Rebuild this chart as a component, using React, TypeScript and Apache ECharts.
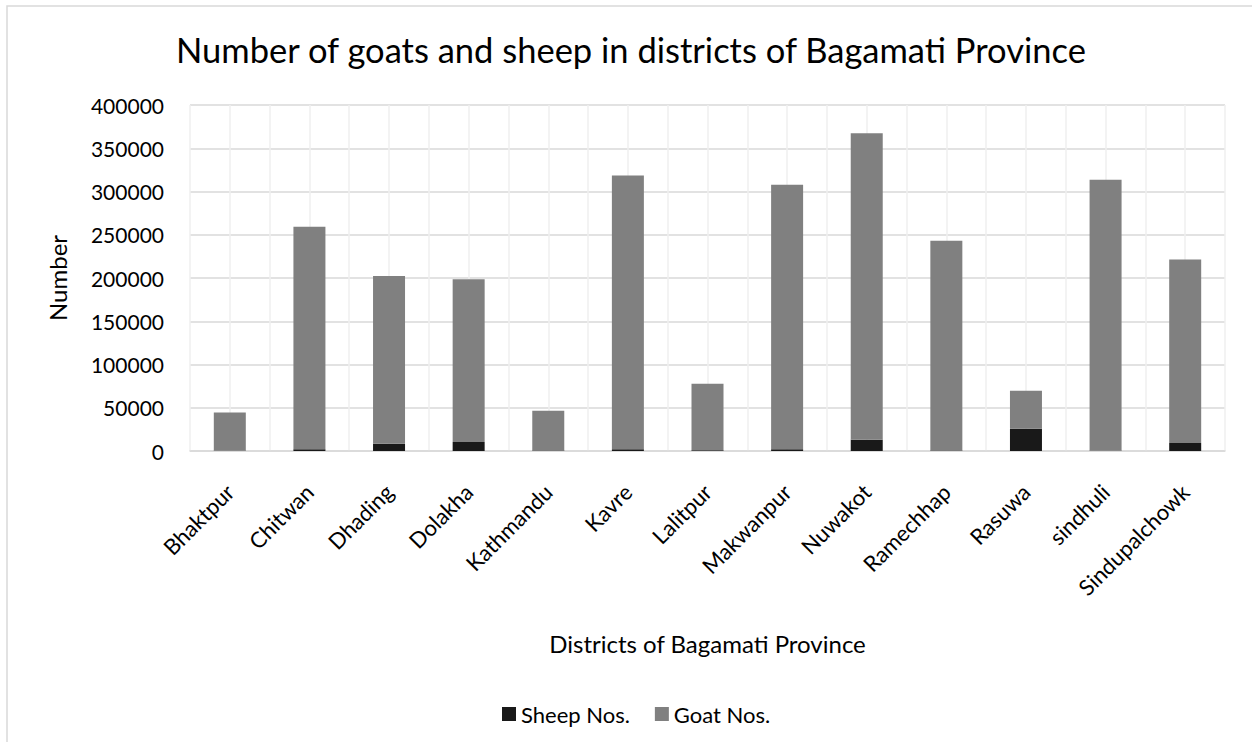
import React, { useEffect, useRef } from "react";
import * as echarts from "echarts";

const districts = [
  "Bhaktpur", "Chitwan", "Dhading", "Dolakha", "Kathmandu", "Kavre", "Lalitpur",
  "Makwanpur", "Nuwakot", "Ramechhap", "Rasuwa", "sindhuli", "Sindupalchowk",
];
const sheepNos = [300, 1900, 8500, 10400, 500, 1900, 1000, 1900, 13100, 700, 25800, 300, 9200];
const goatNos = [44300, 257300, 193800, 188100, 46000, 316600, 76700, 305800, 354200, 242400, 43800, 313200, 212300];

const FONT = "Lato";

export default function App() {
  const ref = useRef<HTMLDivElement>(null);
  useEffect(() => {
    if (!ref.current) return;
    const chart = echarts.init(ref.current, null, { renderer: "svg" });
    chart.setOption({
      animation: false,
      backgroundColor: "#ffffff",
      textStyle: { fontFamily: FONT },
      title: {
        text: "Number of goats and sheep in districts of Bagamati Province",
        left: 626,
        textAlign: "center",
        top: 27,
        textStyle: { fontFamily: FONT, fontSize: 34.5, fontWeight: "normal", color: "#000000" },
      },
      graphic: [
        {
          type: "rect",
          z: -10,
          shape: { x: 7, y: 6, width: 1400, height: 900 },
          style: { fill: "none", stroke: "#d9d9d9", lineWidth: 1.5 },
        },
      ],
      legend: {
        data: ["Sheep Nos.", "Goat Nos."],
        left: 497,
        top: 698,
        itemWidth: 14,
        itemHeight: 14,
        itemGap: 25,
        icon: "rect",
        textStyle: { fontFamily: FONT, fontSize: 22, color: "#000000" },
      },
      grid: { left: 190, right: 27, top: 105, bottom: 291, containLabel: false },
      xAxis: [
        {
          type: "category",
          data: districts,
          name: "Districts of Bagamati Province",
          nameLocation: "middle",
          nameGap: 180,
          nameTextStyle: { fontFamily: FONT, fontSize: 24, color: "#000000" },
          axisLine: { show: true, lineStyle: { color: "#d9d9d9", width: 1.5 } },
          axisTick: { show: false },
          splitLine: { show: false },
          axisLabel: {
            rotate: 45,
            interval: 0,
            margin: 37,
            padding: [0, 0, 28, 0],
            fontFamily: FONT,
            fontSize: 22,
            color: "#000000",
          },
        },
        {
          type: "value",
          min: 0,
          max: 26,
          interval: 1,
          position: "bottom",
          show: true,
          axisLine: { show: false },
          axisTick: { show: false },
          axisLabel: { show: false },
          splitLine: { show: true, lineStyle: { color: "#efefef", width: 1.5 } },
        },
      ],
      yAxis: {
        type: "value",
        min: 0,
        max: 400000,
        interval: 50000,
        name: "Number",
        nameLocation: "middle",
        nameGap: 121,
        nameTextStyle: { fontFamily: FONT, fontSize: 24, color: "#000000" },
        axisLine: { show: false },
        axisTick: { show: false },
        axisLabel: {
          margin: 26,
          fontFamily: FONT,
          fontSize: 21,
          color: "#000000",
          formatter: (v: number) => String(v),
        },
        splitLine: { show: true, lineStyle: { color: "#d9d9d9", width: 1.5 } },
      },
      series: [
        {
          name: "Sheep Nos.",
          type: "bar",
          stack: "total",
          xAxisIndex: 0,
          barWidth: 32,
          data: sheepNos,
          itemStyle: { color: "#191919" },
        },
        {
          name: "Goat Nos.",
          type: "bar",
          stack: "total",
          xAxisIndex: 0,
          barWidth: 32,
          data: goatNos,
          itemStyle: { color: "#808080" },
        },
      ],
    });
    return () => chart.dispose();
  }, []);
  return (
    <div
      ref={ref}
      style={{ position: "absolute", left: 0, top: 0, width: 1252, height: 742 }}
    />
  );
}
